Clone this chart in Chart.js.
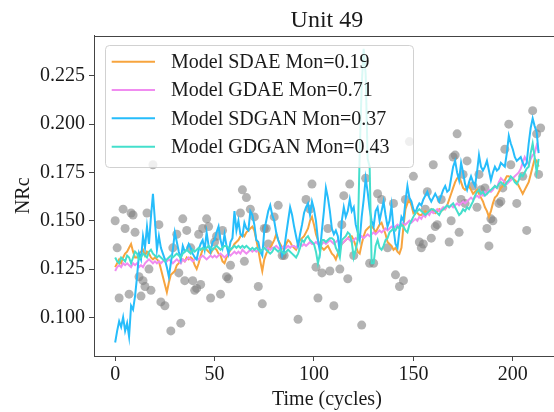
<!DOCTYPE html>
<html>
<head>
<meta charset="utf-8">
<script src="https://cdn.jsdelivr.net/npm/chart.js@4.4.1/dist/chart.umd.min.js"></script>
<style>
  html, body { margin: 0; padding: 0; background: #fff; overflow: hidden; }
</style>
</head>
<body>
<canvas id="chart" width="580" height="412"></canvas>
<script>
// Unit 49 - NRc over time, four model fits + observed points

const titleText = 'Unit 49';
const xTicks = [0, 50, 100, 150, 200];
const yTicks = [0.100, 0.125, 0.150, 0.175, 0.200, 0.225];

const sdae = [
  .126,.128,.130,.128,.131,.133,.134,.136,.138,.134,
  .131,.131,.133,.134,.135,.132,.134,.133,.131,.130,
  .131,.130,.129,.125,.121,.117,.113,.118,.122,.123,
  .124,.127,.128,.130,.130,.129,.131,.130,.131,.130,
  .127,.125,.128,.132,.135,.137,.135,.134,.133,.135,
  .136,.135,.133,.132,.129,.128,.131,.133,.135,.136,
  .138,.139,.140,.142,.143,.142,.144,.145,.146,.147,
  .145,.140,.135,.129,.124,.130,.133,.135,.136,.138,
  .140,.143,.140,.138,.136,.135,.138,.140,.139,.137,
  .136,.135,.138,.140,.141,.142,.144,.146,.150,.152,
  .148,.143,.140,.137,.136,.135,.136,.137,.135,.133,
  .132,.130,.133,.136,.138,.139,.140,.141,.142,.142,
  .140,.137,.134,.133,.138,.142,.145,.146,.147,.147,
  .146,.144,.146,.148,.149,.146,.143,.139,.138,.137,
  .135,.136,.134,.133,.136,.147,.156,.159,.161,.158,
  .154,.155,.154,.153,.153,.154,.155,.154,.155,.156,
  .155,.154,.155,.156,.155,.156,.156,.158,.161,.164,
  .167,.170,.172,.173,.170,.167,.166,.167,.168,.166,
  .164,.165,.166,.164,.162,.160,.157,.155,.152,.155,
  .159,.162,.163,.165,.167,.168,.171,.173,.173,.172,
  .172,.171,.170,.168,.166,.164,.166,.168,.170,.174,
  .178,.182,.181,.178
];

const gdae = [
  .124,.126,.127,.126,.128,.127,.128,.127,.126,.128,
  .127,.128,.126,.127,.126,.128,.129,.130,.129,.128,
  .129,.128,.129,.128,.129,.130,.129,.130,.129,.128,
  .129,.130,.129,.128,.130,.129,.130,.131,.130,.129,
  .130,.131,.130,.131,.132,.131,.130,.131,.132,.131,
  .132,.131,.132,.133,.132,.131,.132,.133,.132,.133,
  .134,.133,.134,.133,.135,.134,.133,.134,.135,.134,
  .135,.134,.135,.134,.135,.136,.135,.136,.135,.136,
  .136,.137,.136,.135,.136,.137,.136,.137,.136,.137,
  .137,.136,.137,.138,.137,.138,.137,.138,.139,.138,
  .138,.139,.138,.137,.138,.139,.138,.139,.140,.139,
  .138,.139,.140,.139,.138,.139,.140,.141,.140,.139,
  .140,.141,.140,.141,.142,.141,.142,.143,.142,.143,
  .144,.143,.144,.145,.144,.145,.146,.145,.146,.147,
  .146,.147,.148,.147,.148,.149,.148,.149,.150,.149,
  .150,.151,.150,.152,.151,.153,.152,.154,.153,.155,
  .154,.155,.156,.155,.156,.157,.156,.158,.157,.158,
  .157,.158,.159,.158,.159,.160,.159,.160,.161,.162,
  .161,.162,.163,.162,.164,.163,.165,.164,.166,.165,
  .166,.168,.167,.170,.172,.171,.170,.169,.170,.171,
  .172,.173,.174,.175,.177,.180,.183,.181,.179,.182,
  .184,.185,.189,.186
];

const sdgan = [
  .087,.093,.098,.095,.100,.093,.097,.090,.106,.104,
  .111,.121,.133,.130,.142,.136,.147,.138,.152,.164,
  .150,.135,.142,.136,.133,.130,.126,.121,.128,.135,
  .144,.139,.134,.130,.137,.134,.135,.138,.136,.133,
  .131,.130,.135,.138,.140,.135,.144,.137,.134,.139,
  .140,.144,.147,.140,.136,.143,.137,.133,.139,.141,
  .155,.145,.150,.143,.142,.149,.146,.145,.155,.153,
  .148,.140,.139,.134,.132,.145,.150,.155,.158,.153,
  .150,.144,.140,.137,.132,.135,.143,.150,.157,.153,
  .147,.142,.137,.143,.148,.154,.157,.159,.153,.160,
  .156,.150,.140,.134,.145,.155,.167,.162,.155,.146,
  .143,.145,.142,.133,.150,.157,.152,.155,.161,.155,
  .157,.148,.144,.140,.152,.161,.172,.165,.156,.150,
  .147,.155,.157,.150,.155,.160,.153,.147,.150,.158,
  .146,.138,.136,.145,.152,.150,.160,.168,.162,.160,
  .156,.154,.157,.159,.158,.161,.163,.165,.162,.160,
  .162,.164,.162,.160,.163,.166,.168,.165,.166,.172,
  .178,.181,.175,.171,.180,.175,.169,.166,.170,.173,
  .170,.168,.175,.184,.178,.176,.178,.181,.176,.171,
  .175,.178,.176,.177,.180,.179,.178,.185,.194,.190,
  .187,.183,.181,.182,.183,.180,.178,.180,.190,.198,
  .203,.199,.196,.185
];

const gdgan = [
  .131,.129,.128,.131,.130,.129,.132,.131,.128,.131,
  .134,.133,.130,.131,.133,.132,.131,.134,.135,.133,
  .132,.131,.132,.131,.130,.129,.130,.131,.132,.131,
  .132,.133,.132,.131,.133,.134,.135,.134,.133,.135,
  .134,.135,.136,.135,.136,.135,.136,.137,.136,.135,
  .136,.137,.136,.135,.136,.137,.137,.136,.135,.136,
  .137,.136,.137,.136,.137,.136,.137,.136,.135,.136,
  .135,.136,.135,.134,.135,.136,.135,.134,.133,.134,
  .136,.135,.134,.135,.134,.133,.134,.135,.134,.133,
  .132,.131,.133,.136,.140,.139,.141,.142,.140,.139,
  .138,.134,.128,.133,.140,.140,.139,.140,.141,.141,
  .140,.136,.134,.131,.140,.141,.142,.144,.143,.139,
  .131,.135,.140,.185,.220,.239,.226,.182,.178,.128,
  .128,.137,.140,.136,.135,.137,.140,.141,.144,.145,
  .146,.145,.147,.146,.148,.147,.145,.144,.148,.150,
  .152,.154,.155,.156,.155,.154,.153,.154,.155,.156,
  .156,.155,.154,.153,.155,.156,.157,.158,.157,.158,
  .159,.157,.155,.153,.154,.156,.155,.157,.156,.158,
  .160,.163,.165,.166,.164,.165,.163,.164,.165,.166,
  .167,.168,.167,.169,.170,.169,.168,.170,.171,.173,
  .172,.170,.169,.171,.174,.173,.175,.177,.178,.185,
  .190,.183,.175,.182
];

// observed points (cycle, NRc)
const obsX = [
  0, 2, 1, 4, 5, 7, 8, 9, 10, 12, 13, 14, 15, 16, 17, 18, 19, 22, 23, 25,
  28, 29, 31, 32, 33, 34, 36, 35, 38, 39, 40, 41, 43, 42, 44, 46, 47, 48, 51, 50,
  53, 54, 56, 57, 58, 64, 63, 66, 65, 68, 70, 72, 74, 75, 76, 77, 80, 82, 84, 85,
  92, 96, 99, 98, 101, 102, 104, 108, 110, 107, 113, 114, 115, 117, 118, 120, 124, 126, 128, 130,
  132, 134, 137, 140, 141, 143, 145, 146, 148, 150, 153, 154, 155, 156, 157, 159, 160, 161, 162, 164,
  168, 169, 170, 171, 172, 173, 174, 175, 176, 177, 180, 182, 183, 184, 186, 187, 188, 189, 190, 193,
  194, 195, 196, 198, 199, 202, 205, 207, 210, 212, 213, 214
];
const obsY = [
  .150, .110, .136, .156, .146, .112, .154, .153, .144, .121, .111, .119, .116, .154, .125, .114, .179, .148, .108, .106,
  .093, .136, .143, .123, .097, .151, .145, .119, .136, .119, .114, .115, .117, .143, .146, .151, .147, .110, .142, .139,
  .112, .145, .121, .120, .127, .166, .154, .162, .129, .156, .152, .116, .107, .146, .146, .138, .152, .158, .132, .132,
  .099, .161, .169, .156, .126, .110, .123, .124, .106, .146, .125, .148, .163, .120, .169, .132, .096, .172, .128, .128,
  .164, .161, .136, .159, .122, .116, .119, .161, .191, .173, .139, .136, .138, .156, .165, .141, .179, .147, .148, .161,
  .139, .150, .183, .184, .195, .144, .161, .174, .159, .181, .168, .157, .174, .166, .167, .146, .137, .151, .150, .159,
  .160, .167, .187, .200, .179, .159, .173, .145, .207, .195, .174, .198
];

const cycles = sdae.map((_, i) => i);
const xMin = -10.65;
const xMax = 223.65;
const yMin = 0.0800;
const yMax = 0.2459;

const FONT = '"Liberation Serif", "DejaVu Serif", serif';
const TEXT = '#1a1a1a';
const AXIS = '#444';

function toPoints(values) {
    return values.map((v, i) => ({ x: cycles[i], y: v }));
}

function lineSet(label, values, color, order) {
    return {
        type: 'line',
        label: label,
        data: toPoints(values),
        borderColor: color,
        backgroundColor: color,
        borderWidth: 2,
        pointRadius: 0,
        tension: 0,
        order: order,
        inLegend: true
    };
}

// title, top spine and the in-plot legend box
const framePlugin = {
    id: 'frame',
    afterDatasetsDraw(chart) {
        const ctx = chart.ctx;
        const a = chart.chartArea;
        ctx.save();
        ctx.strokeStyle = AXIS;
        ctx.lineWidth = 1;
        ctx.beginPath();
        ctx.moveTo(a.left, Math.round(a.top) + 0.5);
        ctx.lineTo(a.right, Math.round(a.top) + 0.5);
        ctx.moveTo(a.right + 0.5, a.top);
        ctx.lineTo(a.right + 0.5, a.bottom);
        ctx.stroke();

        // legend
        const bx = a.left + 11, by = a.top + 9.5, bw = 308, bh = 122;
        ctx.beginPath();
        ctx.roundRect(bx + 0.5, by + 0.5, bw, bh, 4);
        ctx.fillStyle = 'rgba(255,255,255,0.8)';
        ctx.fill();
        ctx.strokeStyle = 'rgba(204,204,204,0.9)';
        ctx.stroke();

        const items = chart.data.datasets.filter(d => d.inLegend);
        ctx.font = '20px ' + FONT;
        ctx.textBaseline = 'middle';
        ctx.textAlign = 'left';
        items.forEach((d, i) => {
            const y = by + 16.7 + i * 28.33;
            ctx.strokeStyle = d.borderColor;
            ctx.lineWidth = 2;
            ctx.beginPath();
            ctx.moveTo(bx + 6.7, y);
            ctx.lineTo(bx + 50, y);
            ctx.stroke();
            ctx.fillStyle = TEXT;
            ctx.fillText(d.label, bx + 66, y + 1);
        });

        // title
        ctx.font = '24px ' + FONT;
        ctx.textAlign = 'center';
        ctx.textBaseline = 'alphabetic';
        ctx.fillText(titleText, (a.left + a.right) / 2, 27);
        ctx.restore();
    }
};

const chart = new Chart(document.getElementById('chart'), {
    data: {
        datasets: [
            {
                type: 'scatter',
                label: 'observed',
                data: obsX.map((x, i) => ({ x: x, y: obsY[i] })),
                backgroundColor: 'rgba(128,128,128,0.6)',
                borderWidth: 0,
                pointRadius: 4.5,
                order: 9
            },
            lineSet('Model SDAE Mon=0.19', sdae, '#f7a43e', 4),
            lineSet('Model GDAE Mon=0.71', gdae, '#f08cf0', 3),
            lineSet('Model SDGAN Mon=0.37', sdgan, '#26bdfb', 2),
            lineSet('Model GDGAN Mon=0.43', gdgan, '#44dfcc', 1)
        ]
    },
    options: {
        responsive: false,
        animation: false,
        layout: { padding: { top: 35.5, right: 20.2, left: 0, bottom: 0 } },
        plugins: {
            legend: { display: false },
            tooltip: { enabled: false },
            title: { display: false }
        },
        scales: {
            x: {
                type: 'linear',
                min: xMin,
                max: xMax,
                afterBuildTicks: s => { s.ticks = xTicks.map(v => ({ value: v })); },
                afterFit: s => { s.height = 56; },
                ticks: {
                    font: { family: FONT, size: 20 },
                    color: TEXT,
                    padding: 2,
                    maxRotation: 0,
                    autoSkip: false
                },
                grid: { drawOnChartArea: false, drawTicks: true, tickLength: 5, color: AXIS },
                border: { display: true, color: AXIS, width: 1 },
                title: {
                    display: true,
                    text: 'Time (cycles)',
                    font: { family: FONT, size: 20 },
                    color: TEXT,
                    padding: { top: 0, bottom: 0 }
                }
            },
            y: {
                type: 'linear',
                min: yMin,
                max: yMax,
                afterBuildTicks: s => { s.ticks = yTicks.map(v => ({ value: v })); },
                afterFit: s => { s.width = 94; },
                ticks: {
                    font: { family: FONT, size: 20 },
                    color: TEXT,
                    padding: 4,
                    callback: v => v.toFixed(3)
                },
                grid: { drawOnChartArea: false, drawTicks: true, tickLength: 5, color: AXIS },
                border: { display: true, color: AXIS, width: 1 },
                title: {
                    display: true,
                    text: 'NRc',
                    font: { family: FONT, size: 20 },
                    color: TEXT,
                    padding: { top: 12, bottom: 0 }
                }
            }
        }
    },
    plugins: [framePlugin]
});
</script>
</body>
</html>
